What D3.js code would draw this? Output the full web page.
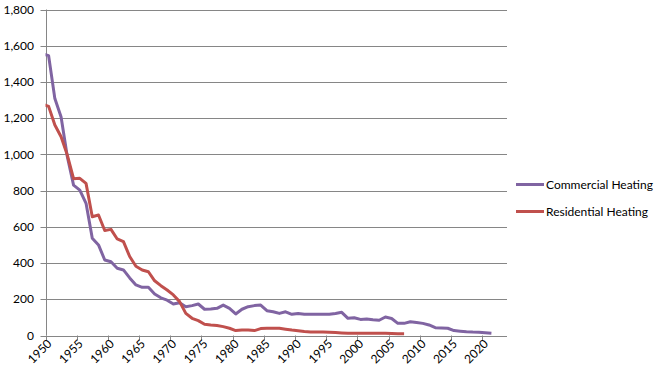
<!DOCTYPE html>
<html>
<head>
<meta charset="utf-8">
<script src="https://cdn.jsdelivr.net/npm/d3@7"></script>
<style>
  body { margin: 0; background: #fff; }
  text { font-family: Lato, "Open Sans", sans-serif; font-size: 12px; fill: #000; }
</style>
</head>
<body>
<div id="chart"></div>
<script>
// DATA (points sit mid-year)
const years = d3.range(1949, 2022);
const commercial = [1555, 1545, 1308, 1207, 987, 830, 803, 730, 537, 500,
  417, 407, 371, 362, 318, 279, 266, 266, 229, 208,
  195, 174, 181, 159, 165, 174, 145, 146, 150, 168,
  150, 119, 145, 159, 165, 168, 137, 131, 122, 131,
  117, 122, 117, 117, 117, 117, 117, 122, 128, 95,
  98, 89, 91, 87, 84, 102, 94, 67, 67, 76,
  72, 67, 58, 43, 42, 40, 27, 24, 21, 19,
  18, 15, 12];
const residential = [1278, 1265, 1162, 1097, 996, 866, 868, 840, 656, 665,
  580, 586, 533, 518, 436, 382, 362, 352, 302, 275,
  251, 224, 187, 122, 95, 82, 62, 58, 55, 49,
  40, 27, 30, 30, 27, 38, 40, 40, 40, 35,
  30, 26, 22, 20, 20, 19, 18, 16, 14, 12,
  12, 12, 12, 12, 12, 12, 11, 10, 10];
const seriesNames = ["Commercial Heating", "Residential Heating"];
const seriesColors = ["#8064A2", "#C0504D"];
const yTicks = d3.range(0, 1801, 200);
const xTicks = d3.range(1950, 2021, 5);

const width = 658, height = 377;
const margin = {top: 9.5, right: 151, bottom: 41.5, left: 45.5};

const svg = d3.select("#chart").append("svg")
  .attr("width", width)
  .attr("height", height);

const x = d3.scaleLinear().domain([1950, 2024]).range([margin.left, width - margin.right]);
const y = d3.scaleLinear().domain([0, 1800]).range([height - margin.bottom, margin.top]);

// GRIDLINES
svg.append("g")
  .selectAll("line")
  .data(yTicks)
  .join("line")
  .attr("x1", margin.left - 5)
  .attr("x2", width - margin.right)
  .attr("y1", d => Math.round(y(d)) + 0.5)
  .attr("y2", d => Math.round(y(d)) + 0.5)
  .attr("stroke", "#868686");

// Y LABELS
svg.append("g")
  .selectAll("text")
  .data(yTicks)
  .join("text")
  .attr("x", 34)
  .attr("y", d => y(d))
  .attr("dy", "0.35em")
  .attr("text-anchor", "end")
  .text(d3.format(","));

// Y AXIS LINE
svg.append("line")
  .attr("x1", Math.round(margin.left) + 0.5).attr("x2", Math.round(margin.left) + 0.5)
  .attr("y1", margin.top).attr("y2", height - margin.bottom)
  .attr("stroke", "#868686");

// X TICKS + LABELS
const xg = svg.append("g");
xg.selectAll("line")
  .data(xTicks)
  .join("line")
  .attr("x1", d => Math.round(x(d)) + 0.5)
  .attr("x2", d => Math.round(x(d)) + 0.5)
  .attr("y1", height - margin.bottom)
  .attr("y2", height - margin.bottom + 5)
  .attr("stroke", "#868686");

xg.selectAll("text")
  .data(xTicks)
  .join("text")
  .attr("transform", d => `translate(${x(d) + 4}, ${height - margin.bottom + 6}) rotate(-45)`)
  .attr("dy", "0.35em")
  .attr("text-anchor", "end")
  .text(d => d);

// LINES
svg.append("clipPath").attr("id", "plot")
  .append("rect")
  .attr("x", margin.left).attr("y", 0)
  .attr("width", width - margin.right - margin.left)
  .attr("height", height);

const line = d3.line()
  .x((d, i) => x(years[i] + 0.5))
  .y(d => y(d));

[commercial, residential].forEach((vals, k) => {
  svg.append("path")
    .datum(vals)
    .attr("clip-path", "url(#plot)")
    .attr("fill", "none")
    .attr("stroke", seriesColors[k])
    .attr("stroke-width", 3)
    .attr("stroke-linejoin", "round")
    .attr("d", line);
});

// LEGEND
const legend = svg.append("g")
  .selectAll("g")
  .data(seriesNames)
  .join("g")
  .attr("transform", (d, i) => `translate(516, ${184.5 + i * 27})`);

legend.append("line")
  .attr("x1", 0).attr("x2", 28)
  .attr("stroke", (d, i) => seriesColors[i])
  .attr("stroke-width", 3);

legend.append("text")
  .attr("x", 30)
  .attr("dy", "0.35em")
  .text(d => d);
</script>
</body>
</html>
